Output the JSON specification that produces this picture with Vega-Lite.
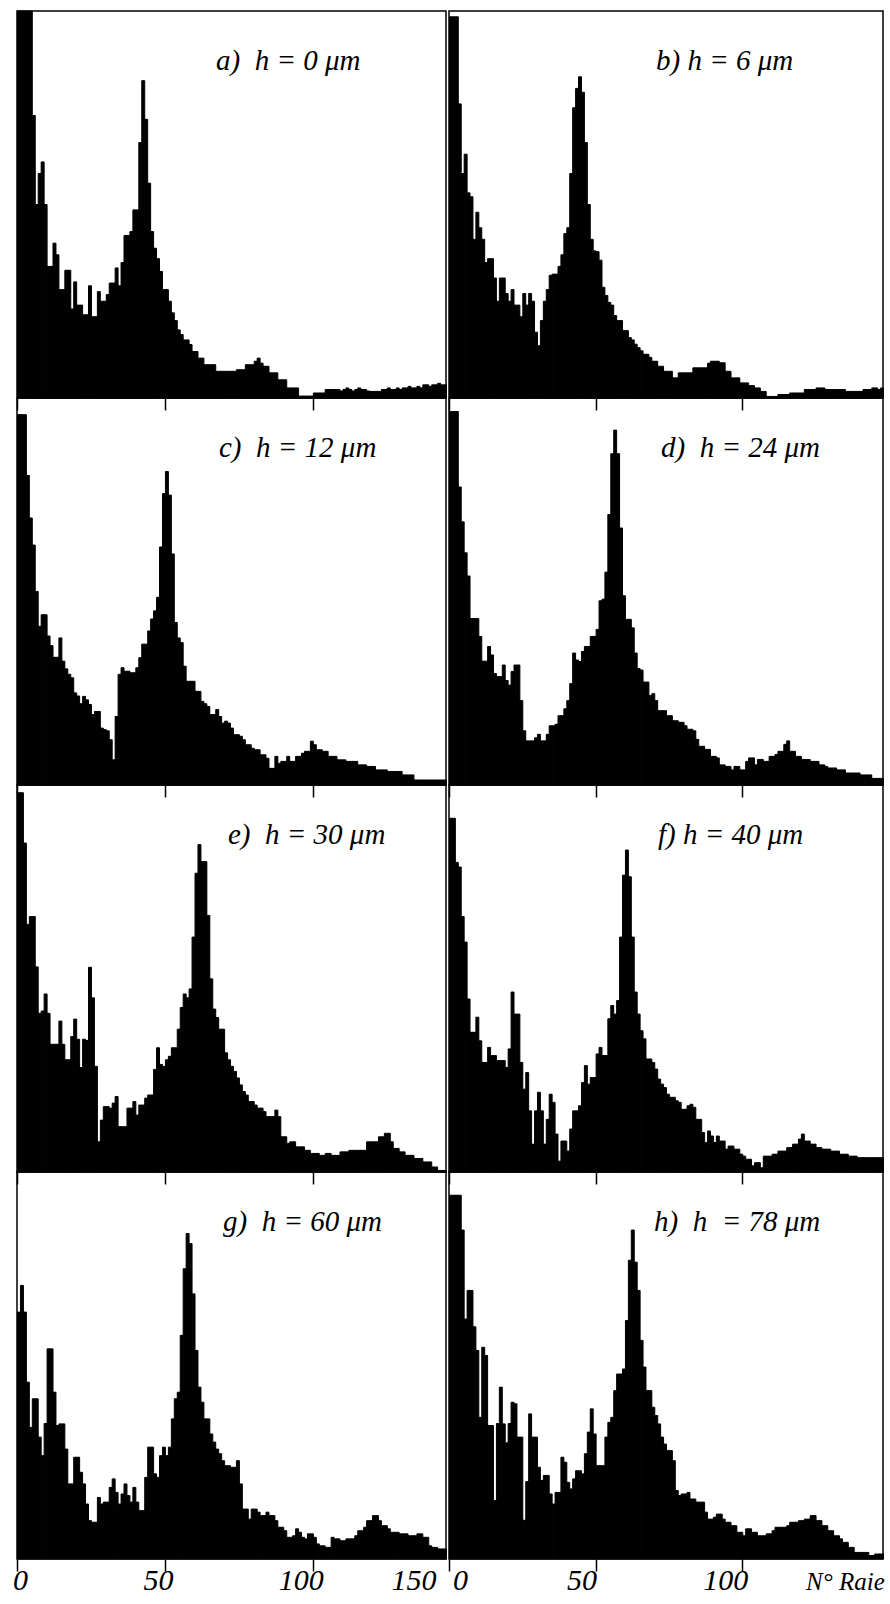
{
"$schema": "https://vega.github.io/schema/vega-lite/v6.json",
"padding": {"left": 11, "top": 9, "right": 0, "bottom": 0},
"background": "white",
"datasets": {"raies": [
{"x":0,"a":100,"b":98.5,"c":95.7,"d":96.5,"e":98,"f":91.4,"g":63.8,"h":94},
{"x":1,"a":100,"b":98.5,"c":95.7,"d":96.5,"e":98,"f":91.4,"g":70.7,"h":94},
{"x":2,"a":100,"b":98.5,"c":95.7,"d":96.5,"e":85,"f":80,"g":63.8,"h":94},
{"x":3,"a":100,"b":76,"c":80,"d":77,"e":64,"f":78.8,"g":45.7,"h":94},
{"x":4,"a":100,"b":58,"c":69,"d":68,"e":66,"f":66,"g":34,"h":85},
{"x":5,"a":73,"b":63,"c":62,"d":60,"e":66,"f":59.4,"g":41.4,"h":62},
{"x":6,"a":50,"b":53,"c":50,"d":54,"e":53,"f":44.7,"g":41.4,"h":69.4},
{"x":7,"a":58,"b":52,"c":41,"d":43,"e":41,"f":36.1,"g":31.5,"h":69.4},
{"x":8,"a":61,"b":41,"c":44,"d":43,"e":41.6,"f":36.1,"g":26.7,"h":60},
{"x":9,"a":50,"b":48,"c":44,"d":43,"e":46,"f":40,"g":35,"h":53.9},
{"x":10,"a":34,"b":44,"c":38.5,"d":38.4,"e":41,"f":33.9,"g":54.3,"h":36.6},
{"x":11,"a":34,"b":41,"c":36,"d":32,"e":33,"f":28.3,"g":54.3,"h":54.7},
{"x":12,"a":40,"b":35,"c":33,"d":32,"e":33,"f":28.3,"g":43.1,"h":52.6},
{"x":13,"a":37,"b":36,"c":33,"d":35.8,"e":33,"f":32.2,"g":34.5,"h":34.5},
{"x":14,"a":28,"b":36,"c":38,"d":33.6,"e":39,"f":30.1,"g":34.9,"h":34.5},
{"x":15,"a":28,"b":31,"c":32,"d":28.8,"e":33,"f":30.1,"g":34.9,"h":15.1},
{"x":16,"a":33,"b":25,"c":30,"d":28,"e":29,"f":28.8,"g":28.4,"h":35},
{"x":17,"a":33,"b":31,"c":28.6,"d":28,"e":29,"f":28.8,"g":19.4,"h":44.4},
{"x":18,"a":23,"b":31,"c":27.7,"d":31,"e":35,"f":28.8,"g":19.4,"h":34.9},
{"x":19,"a":30,"b":27,"c":23.8,"d":27,"e":39.5,"f":27,"g":26.3,"h":30},
{"x":20,"a":24,"b":25,"c":23,"d":25.8,"e":34.3,"f":31.8,"g":26.3,"h":35},
{"x":21,"a":24,"b":28,"c":21,"d":29.3,"e":27,"f":46.5,"g":22.4,"h":40.5},
{"x":22,"a":21.5,"b":24,"c":22.9,"d":31,"e":34.3,"f":40.8,"g":19.4,"h":40.1},
{"x":23,"a":21.5,"b":24,"c":22,"d":31,"e":34,"f":40.8,"g":14.2,"h":31.5},
{"x":24,"a":29,"b":21,"c":20.8,"d":21.8,"e":52.9,"f":28.3,"g":9.9,"h":31.5},
{"x":25,"a":21,"b":27,"c":18.2,"d":14,"e":45,"f":21.4,"g":9.5,"h":10},
{"x":26,"a":21,"b":24,"c":19,"d":11.4,"e":27.3,"f":25.7,"g":9.5,"h":20},
{"x":27,"a":27.5,"b":27,"c":19,"d":11.4,"e":7.8,"f":15.8,"g":15.9,"h":37.5},
{"x":28,"a":25,"b":25,"c":14.7,"d":11.4,"e":13.4,"f":7.2,"g":14.2,"h":31.5},
{"x":29,"a":25,"b":17,"c":14.3,"d":12.2,"e":16.9,"f":15.8,"g":14.7,"h":31.5},
{"x":30,"a":26.7,"b":13.5,"c":14,"d":13.1,"e":16.9,"f":20.6,"g":14.7,"h":23.7},
{"x":31,"a":29.7,"b":20,"c":11.7,"d":11.4,"e":16.5,"f":15.8,"g":18.5,"h":20.3},
{"x":32,"a":29.7,"b":25,"c":6.5,"d":11.4,"e":17.8,"f":7.2,"g":20.7,"h":21.6},
{"x":33,"a":33.6,"b":28,"c":17.7,"d":13.1,"e":19.5,"f":13.6,"g":17.2,"h":21.6},
{"x":34,"a":29,"b":31.7,"c":28.6,"d":15.3,"e":11.7,"f":20.1,"g":14.2,"h":16.8},
{"x":35,"a":35,"b":32,"c":30.3,"d":15.3,"e":11.7,"f":18,"g":16.8,"h":14.2},
{"x":36,"a":42,"b":32,"c":29.4,"d":15.7,"e":11.7,"f":9.8,"g":19.4,"h":17.2},
{"x":37,"a":42,"b":34,"c":29.4,"d":17.9,"e":16.5,"f":2.8,"g":16.4,"h":17.2},
{"x":38,"a":43,"b":37,"c":29,"d":17.9,"e":16.5,"f":8,"g":14.7,"h":26.3},
{"x":39,"a":48.6,"b":42.5,"c":29,"d":19.7,"e":18.2,"f":8,"g":18.5,"h":25},
{"x":40,"a":48.6,"b":44,"c":30.3,"d":21.8,"e":14.7,"f":5.4,"g":14.7,"h":19.8},
{"x":41,"a":66,"b":58,"c":32.9,"d":26.2,"e":17.3,"f":11.1,"g":12.5,"h":18.1},
{"x":42,"a":82,"b":75,"c":36.4,"d":34.1,"e":17.3,"f":15.8,"g":12.5,"h":20.7},
{"x":43,"a":72,"b":80,"c":36.4,"d":32.3,"e":19.1,"f":15.8,"g":21.1,"h":22.8},
{"x":44,"a":55.5,"b":83,"c":39.8,"d":31.9,"e":19.9,"f":17.1,"g":28.9,"h":22.8},
{"x":45,"a":43,"b":79,"c":42.9,"d":34.5,"e":19.9,"f":23.1,"g":28.9,"h":22},
{"x":46,"a":38.7,"b":66,"c":45,"d":35.8,"e":26.5,"f":27.5,"g":22,"h":27.2},
{"x":47,"a":36,"b":50,"c":48.5,"d":35.8,"e":32.1,"f":22.7,"g":21.1,"h":32.8},
{"x":48,"a":32.7,"b":41,"c":61.5,"d":38.4,"e":27.8,"f":24.4,"g":26.7,"h":38.8},
{"x":49,"a":28,"b":38,"c":75.3,"d":38.4,"e":27.3,"f":24.4,"g":28.9,"h":32.3},
{"x":50,"a":28,"b":37.8,"c":81,"d":40.2,"e":29,"f":30.5,"g":26.7,"h":24.1},
{"x":51,"a":25,"b":35.6,"c":74.9,"d":47.6,"e":29.9,"f":32.2,"g":28.9,"h":24.1},
{"x":52,"a":22,"b":28.6,"c":59.7,"d":48,"e":32.1,"f":30.1,"g":36.2,"h":24.1},
{"x":53,"a":20,"b":26.5,"c":42,"d":55,"e":32.1,"f":30.1,"g":41.4,"h":31.5},
{"x":54,"a":17.6,"b":24.7,"c":38,"d":69.9,"e":36.9,"f":39.6,"g":43.1,"h":35.3},
{"x":55,"a":16.4,"b":24,"c":36.8,"d":85.6,"e":42.5,"f":43,"g":57.8,"h":36.6},
{"x":56,"a":15,"b":21.3,"c":30.7,"d":91.7,"e":46,"f":40.8,"g":75,"h":43.5},
{"x":57,"a":15,"b":20,"c":26.8,"d":85.6,"e":45,"f":44.3,"g":84.1,"h":47.8},
{"x":58,"a":13.8,"b":20,"c":26.8,"d":66.4,"e":47.3,"f":60.7,"g":81.5,"h":47.8},
{"x":59,"a":12,"b":17.4,"c":26.8,"d":48.9,"e":60.7,"f":76.7,"g":68.5,"h":49.1},
{"x":60,"a":12,"b":17.4,"c":24.2,"d":42.8,"e":77.2,"f":83.2,"g":53.9,"h":61.6},
{"x":61,"a":10.3,"b":15.6,"c":24.2,"d":42.8,"e":84.6,"f":76.3,"g":44.4,"h":77.2},
{"x":62,"a":10.3,"b":15,"c":21.6,"d":40.6,"e":80.2,"f":60.7,"g":40.5,"h":85},
{"x":63,"a":8.6,"b":13.9,"c":21,"d":34.1,"e":80.2,"f":46.5,"g":36.2,"h":76.7},
{"x":64,"a":8.6,"b":13,"c":20.3,"d":30.1,"e":66.3,"f":40.8,"g":36.2,"h":69.4},
{"x":65,"a":8.6,"b":12.2,"c":18.2,"d":29.7,"e":49.9,"f":36.5,"g":32.3,"h":56.5},
{"x":66,"a":8.6,"b":11.3,"c":18.2,"d":26.6,"e":42.1,"f":34.4,"g":30.2,"h":49.6},
{"x":67,"a":6.9,"b":11.3,"c":19.5,"d":26.6,"e":39.9,"f":29.2,"g":28.4,"h":43.5},
{"x":68,"a":6.9,"b":10.5,"c":17.7,"d":23.1,"e":36.9,"f":29.2,"g":27.2,"h":43.5},
{"x":69,"a":6.9,"b":9.5,"c":16,"d":23.6,"e":36.9,"f":28.3,"g":25.4,"h":39.2},
{"x":70,"a":6.9,"b":9.5,"c":16.5,"d":21.8,"e":30.8,"f":26.6,"g":24.1,"h":37.1},
{"x":71,"a":6.9,"b":8.2,"c":16,"d":19.2,"e":29,"f":24,"g":24.1,"h":34.9},
{"x":72,"a":6.9,"b":8.2,"c":14.7,"d":19.2,"e":27.3,"f":22.7,"g":23.7,"h":31.5},
{"x":73,"a":6.9,"b":6.9,"c":13,"d":19.2,"e":26,"f":21.8,"g":23.7,"h":29.7},
{"x":74,"a":7.3,"b":6.9,"c":13,"d":17.9,"e":24.3,"f":20.1,"g":25.4,"h":28},
{"x":75,"a":7.3,"b":6.9,"c":12.6,"d":17.9,"e":22.5,"f":19.3,"g":19.4,"h":28},
{"x":76,"a":7.3,"b":5.2,"c":11.7,"d":16.6,"e":20.8,"f":19.3,"g":12.9,"h":25.4},
{"x":77,"a":8.6,"b":5.2,"c":10.4,"d":16.6,"e":19.9,"f":18.4,"g":12.9,"h":17.7},
{"x":78,"a":8.6,"b":6.5,"c":10.4,"d":16.2,"e":18.2,"f":18,"g":10.3,"h":16.4},
{"x":79,"a":8.6,"b":6.5,"c":9.5,"d":16.2,"e":18.2,"f":16.2,"g":12.9,"h":16.8},
{"x":80,"a":9.5,"b":6.5,"c":9.1,"d":15.3,"e":17.3,"f":16.2,"g":12.9,"h":16.8},
{"x":81,"a":10.3,"b":6.5,"c":9.1,"d":14.4,"e":16.5,"f":17.1,"g":12.1,"h":17.2},
{"x":82,"a":9,"b":6.5,"c":7.8,"d":14.4,"e":16.5,"f":17.5,"g":11.2,"h":15.5},
{"x":83,"a":8.2,"b":7.8,"c":7.8,"d":14,"e":15.6,"f":16.7,"g":11.2,"h":15.5},
{"x":84,"a":8.2,"b":7.8,"c":6.9,"d":11.8,"e":14.3,"f":13.6,"g":12.1,"h":14.7},
{"x":85,"a":6.5,"b":7.8,"c":4.3,"d":10,"e":14.3,"f":13.6,"g":11.2,"h":14.7},
{"x":86,"a":6.5,"b":7.8,"c":4.3,"d":10,"e":14.3,"f":10.2,"g":11.2,"h":14.7},
{"x":87,"a":6.5,"b":7.8,"c":7.4,"d":9.2,"e":16,"f":7.6,"g":9.9,"h":12.1},
{"x":88,"a":4.7,"b":9,"c":5.6,"d":9.2,"e":14.3,"f":10.6,"g":8.2,"h":10.3},
{"x":89,"a":4.7,"b":9.5,"c":6.1,"d":7.4,"e":9.1,"f":9.3,"g":8.2,"h":10.3},
{"x":90,"a":4.7,"b":9.5,"c":6.1,"d":7.4,"e":9.1,"f":7.6,"g":7.3,"h":10.8},
{"x":91,"a":2.6,"b":9.5,"c":7.4,"d":7,"e":7.4,"f":9.3,"g":5.6,"h":11.6},
{"x":92,"a":2.6,"b":9.1,"c":6.1,"d":5.2,"e":7.8,"f":8,"g":5.6,"h":11.6},
{"x":93,"a":2.6,"b":9.1,"c":6.1,"d":5.2,"e":7.8,"f":8,"g":6,"h":10.3},
{"x":94,"a":2.6,"b":6.9,"c":7.4,"d":4.8,"e":6.5,"f":5.9,"g":7.8,"h":9.5},
{"x":95,"a":0.5,"b":6.9,"c":7.4,"d":4.8,"e":6.5,"f":6.7,"g":6.9,"h":9.5},
{"x":96,"a":0.5,"b":5.2,"c":8.2,"d":3.9,"e":6.5,"f":6.7,"g":5.6,"h":8.6},
{"x":97,"a":0.5,"b":5.2,"c":8.7,"d":4.8,"e":5.6,"f":5.9,"g":5.2,"h":8.6},
{"x":98,"a":0.5,"b":5.2,"c":8.7,"d":4.8,"e":5.6,"f":5.9,"g":6.5,"h":6.9},
{"x":99,"a":0.5,"b":3.9,"c":11.3,"d":3.9,"e":4.8,"f":4.6,"g":6.5,"h":6.9},
{"x":100,"a":1.3,"b":3.9,"c":10.4,"d":3.9,"e":4.8,"f":4.1,"g":5.6,"h":6},
{"x":101,"a":1.3,"b":3.9,"c":9.1,"d":6.1,"e":4.8,"f":3.3,"g":3.9,"h":7.8},
{"x":102,"a":1.3,"b":3.2,"c":9.1,"d":7,"e":4.3,"f":3.3,"g":3.4,"h":7.8},
{"x":103,"a":1.3,"b":3.2,"c":8.7,"d":7,"e":4.3,"f":1.6,"g":3.4,"h":6.9},
{"x":104,"a":2.2,"b":2.6,"c":8.7,"d":5.2,"e":4.8,"f":2.4,"g":3,"h":6.9},
{"x":105,"a":2.2,"b":2.6,"c":7.4,"d":6.6,"e":4.8,"f":2.4,"g":3,"h":6},
{"x":106,"a":2.2,"b":1.7,"c":7.4,"d":6.6,"e":4.3,"f":1.1,"g":5.6,"h":6},
{"x":107,"a":2.2,"b":1.7,"c":7.4,"d":6.1,"e":4.3,"f":4.1,"g":5.2,"h":6},
{"x":108,"a":2.2,"b":0.4,"c":6.5,"d":6.1,"e":4.3,"f":4.1,"g":5.2,"h":6.5},
{"x":109,"a":1.8,"b":0.4,"c":6.5,"d":7.4,"e":5.2,"f":4.1,"g":4.7,"h":6.5},
{"x":110,"a":2.2,"b":0.4,"c":6.5,"d":7.4,"e":5.2,"f":4.6,"g":4.7,"h":7.3},
{"x":111,"a":2.6,"b":0.4,"c":6.1,"d":7.9,"e":5.2,"f":4.6,"g":5.2,"h":8.2},
{"x":112,"a":2.2,"b":0.9,"c":6.1,"d":8.7,"e":5.6,"f":5.4,"g":5.2,"h":8.2},
{"x":113,"a":1.8,"b":0.9,"c":6.1,"d":8.7,"e":5.6,"f":5.4,"g":5.2,"h":8.2},
{"x":114,"a":2.2,"b":0.9,"c":6.1,"d":10.5,"e":5.6,"f":5.4,"g":6,"h":8.2},
{"x":115,"a":2.6,"b":0.9,"c":5.2,"d":11.4,"e":5.6,"f":6.3,"g":7.3,"h":8.6},
{"x":116,"a":2.2,"b":1.3,"c":5.2,"d":8.7,"e":5.6,"f":6.3,"g":7.3,"h":9.5},
{"x":117,"a":2.2,"b":1.3,"c":5.2,"d":8.7,"e":5.6,"f":7.2,"g":8.2,"h":9.5},
{"x":118,"a":1.8,"b":1.3,"c":4.8,"d":7.4,"e":7.8,"f":7.2,"g":9.9,"h":9.5},
{"x":119,"a":1.7,"b":1.3,"c":4.8,"d":7.4,"e":7.8,"f":8.5,"g":9.9,"h":9.9},
{"x":120,"a":1.7,"b":1.3,"c":4.8,"d":6.6,"e":7.8,"f":9.8,"g":11.2,"h":9.9},
{"x":121,"a":1.7,"b":2.2,"c":3.9,"d":6.6,"e":7.8,"f":8,"g":11.2,"h":10.3},
{"x":122,"a":1.7,"b":2.2,"c":3.9,"d":6.6,"e":9.1,"f":8,"g":9.9,"h":10.3},
{"x":123,"a":2.2,"b":2.2,"c":3.9,"d":6.1,"e":9.1,"f":7.2,"g":8.6,"h":11.2},
{"x":124,"a":2.2,"b":2.2,"c":3.9,"d":6.1,"e":10,"f":7.2,"g":8.6,"h":11.2},
{"x":125,"a":2.6,"b":2.6,"c":3.5,"d":6.1,"e":10,"f":6.3,"g":7.8,"h":9.9},
{"x":126,"a":2.2,"b":2.6,"c":3.5,"d":5.2,"e":7.8,"f":6.3,"g":6.9,"h":9.9},
{"x":127,"a":2.2,"b":2.6,"c":3.5,"d":5.2,"e":6.1,"f":5.9,"g":6.9,"h":8.6},
{"x":128,"a":2.6,"b":2.2,"c":3.5,"d":4.8,"e":6.1,"f":5.9,"g":6.9,"h":8.6},
{"x":129,"a":2.2,"b":2.2,"c":3.5,"d":4.4,"e":5.2,"f":5.9,"g":6.5,"h":7.3},
{"x":130,"a":2.6,"b":2.2,"c":2.6,"d":4.4,"e":5.2,"f":5.4,"g":6.5,"h":7.3},
{"x":131,"a":2.6,"b":2.2,"c":2.6,"d":4.4,"e":4.3,"f":5.4,"g":6.5,"h":6},
{"x":132,"a":3,"b":2.2,"c":2.6,"d":3.9,"e":4.3,"f":5.4,"g":6,"h":6},
{"x":133,"a":2.6,"b":2.2,"c":2.6,"d":3.9,"e":4.3,"f":4.6,"g":6,"h":5.2},
{"x":134,"a":2.6,"b":2.2,"c":1.3,"d":3.9,"e":3.5,"f":4.6,"g":6,"h":4.3},
{"x":135,"a":3,"b":1.7,"c":1.3,"d":3.1,"e":3.5,"f":4.6,"g":6.5,"h":4.3},
{"x":136,"a":2.6,"b":1.7,"c":1.3,"d":3.1,"e":3.5,"f":4.1,"g":6.5,"h":3},
{"x":137,"a":3.4,"b":1.7,"c":1.3,"d":3.1,"e":2.6,"f":4.1,"g":5.6,"h":3},
{"x":138,"a":3.4,"b":1.7,"c":1.3,"d":3.1,"e":2.6,"f":4.1,"g":5.6,"h":1.7},
{"x":139,"a":3,"b":1.7,"c":1.3,"d":3.1,"e":2.6,"f":3.7,"g":3.4,"h":1.7},
{"x":140,"a":3.4,"b":1.7,"c":1.3,"d":2.6,"e":1.3,"f":3.7,"g":3,"h":1.7},
{"x":141,"a":3.4,"b":2.2,"c":1.3,"d":2.6,"e":1.3,"f":3.7,"g":3,"h":1.7},
{"x":142,"a":3.8,"b":2.2,"c":1.3,"d":2.6,"e":0.4,"f":3.7,"g":2.6,"h":1.7},
{"x":143,"a":3.4,"b":2.2,"c":1.3,"d":2.6,"e":0.4,"f":3.7,"g":2.6,"h":0.9},
{"x":144,"a":3.4,"b":2.6,"c":1.3,"d":1.7,"e":0.4,"f":3.7,"g":2.6,"h":0.9},
{"x":145,"b":2.6,"d":1.7,"f":3.7,"h":1.3},
{"x":146,"b":2.2,"d":1.7,"f":3.7,"h":1.3},
{"x":147,"b":2.6,"d":1.7,"f":3.7,"h":1.3}
]},
"data": {"name": "raies"},
"config": {
  "view": {"stroke": "black", "strokeWidth": 1.5},
  "axis": {"domain": false, "grid": false, "ticks": true, "tickSize": 12, "tickColor": "black", "tickWidth": 1.5, "labelFont": "Liberation Serif", "labelFontStyle": "italic", "labelFontSize": 30, "labelColor": "black", "labelFlush": false, "labelOverlap": false, "labelBound": false, "labelBaseline": "alphabetic", "labelPadding": 18},
  "title": {"font": "Liberation Serif", "fontStyle": "italic", "fontWeight": "normal", "fontSize": 29, "color": "black", "anchor": "start", "baseline": "alphabetic", "offset": -65, "orient": "top", "frame": "group"},
  "bar": {"color": "black", "binSpacing": 0, "stroke": "black", "strokeWidth": 1}
},
"columns": 2,
"spacing": {"row": 0, "column": 3},
"bounds": "flush",
"concat": [
  {"width": 429, "height": 387, "title": {"text": "a)\u00a0\u00a0h = 0 μm", "dx": 199},
   "transform": [{"filter": {"field": "a", "valid": true}}],
   "mark": "bar",
   "encoding": {
    "x": {"field": "x", "type": "quantitative", "bin": {"step": 1, "extent": [0, 145]}, "scale": {"domain": [0, 145], "nice": false, "zero": false}, "axis": {"values": [0, 50, 100], "labels": false}, "title": null},
    "y": {"field": "a", "type": "quantitative", "scale": {"domain": [0, 100]}, "axis": null}}},
  {"width": 434, "height": 387, "title": {"text": "b) h = 6 μm", "dx": 207},
   "transform": [{"filter": {"field": "b", "valid": true}}],
   "mark": "bar",
   "encoding": {
    "x": {"field": "x", "type": "quantitative", "bin": {"step": 1, "extent": [0, 148]}, "scale": {"domain": [0, 148], "nice": false, "zero": false}, "axis": {"values": [0, 50, 100], "labels": false}, "title": null},
    "y": {"field": "b", "type": "quantitative", "scale": {"domain": [0, 100]}, "axis": null}}},
  {"width": 429, "height": 387, "title": {"text": "c)\u00a0\u00a0h = 12 μm", "dx": 202},
   "transform": [{"filter": {"field": "c", "valid": true}}],
   "mark": "bar",
   "encoding": {
    "x": {"field": "x", "type": "quantitative", "bin": {"step": 1, "extent": [0, 145]}, "scale": {"domain": [0, 145], "nice": false, "zero": false}, "axis": {"values": [0, 50, 100], "labels": false}, "title": null},
    "y": {"field": "c", "type": "quantitative", "scale": {"domain": [0, 100]}, "axis": null}}},
  {"width": 434, "height": 387, "title": {"text": "d)\u00a0\u00a0h = 24 μm", "dx": 212},
   "transform": [{"filter": {"field": "d", "valid": true}}],
   "mark": "bar",
   "encoding": {
    "x": {"field": "x", "type": "quantitative", "bin": {"step": 1, "extent": [0, 148]}, "scale": {"domain": [0, 148], "nice": false, "zero": false}, "axis": {"values": [0, 50, 100], "labels": false}, "title": null},
    "y": {"field": "d", "type": "quantitative", "scale": {"domain": [0, 100]}, "axis": null}}},
  {"width": 429, "height": 387, "title": {"text": "e)\u00a0\u00a0h = 30 μm", "dx": 211},
   "transform": [{"filter": {"field": "e", "valid": true}}],
   "mark": "bar",
   "encoding": {
    "x": {"field": "x", "type": "quantitative", "bin": {"step": 1, "extent": [0, 145]}, "scale": {"domain": [0, 145], "nice": false, "zero": false}, "axis": {"values": [0, 50, 100], "labels": false}, "title": null},
    "y": {"field": "e", "type": "quantitative", "scale": {"domain": [0, 100]}, "axis": null}}},
  {"width": 434, "height": 387, "title": {"text": "f) h = 40 μm", "dx": 209},
   "transform": [{"filter": {"field": "f", "valid": true}}],
   "mark": "bar",
   "encoding": {
    "x": {"field": "x", "type": "quantitative", "bin": {"step": 1, "extent": [0, 148]}, "scale": {"domain": [0, 148], "nice": false, "zero": false}, "axis": {"values": [0, 50, 100], "labels": false}, "title": null},
    "y": {"field": "f", "type": "quantitative", "scale": {"domain": [0, 100]}, "axis": null}}},
  {"width": 429, "height": 387, "title": {"text": "g)\u00a0\u00a0h = 60 μm", "dx": 206},
   "transform": [{"filter": {"field": "g", "valid": true}}],
   "mark": "bar",
   "encoding": {
    "x": {"field": "x", "type": "quantitative", "bin": {"step": 1, "extent": [0, 145]}, "scale": {"domain": [0, 145], "nice": false, "zero": false},
      "axis": {"values": [0, 50, 100, 134], "labelExpr": "datum.value == 134 ? '150' : '' + datum.value",
        "tickOpacity": {"condition": {"test": "datum.value == 134", "value": 0}, "value": 1},
        "labelOffset": {"condition": [{"test": "datum.value == 0", "value": 3}, {"test": "datum.value == 50", "value": -7}, {"test": "datum.value == 100", "value": -12}], "value": 0}},
      "title": null},
    "y": {"field": "g", "type": "quantitative", "scale": {"domain": [0, 100]}, "axis": null}}},
  {"width": 434, "height": 387, "title": {"text": "h)\u00a0\u00a0h\u00a0\u00a0= 78 μm", "dx": 205},
   "transform": [{"filter": {"field": "h", "valid": true}}],
   "mark": "bar",
   "encoding": {
    "x": {"field": "x", "type": "quantitative", "bin": {"step": 1, "extent": [0, 148]}, "scale": {"domain": [0, 148], "nice": false, "zero": false},
      "axis": {"values": [0, 50, 100, 135], "labelExpr": "datum.value == 135 ? 'N° Raie' : '' + datum.value",
        "tickOpacity": {"condition": {"test": "datum.value == 135", "value": 0}, "value": 1},
        "labelFontSize": {"condition": {"test": "datum.value == 135", "value": 25}, "value": 30},
        "labelOffset": {"condition": [{"test": "datum.value == 0", "value": 11}, {"test": "datum.value == 50", "value": -14}, {"test": "datum.value == 100", "value": -17}], "value": 0}},
      "title": null},
    "y": {"field": "h", "type": "quantitative", "scale": {"domain": [0, 100]}, "axis": null}}}
]
}
